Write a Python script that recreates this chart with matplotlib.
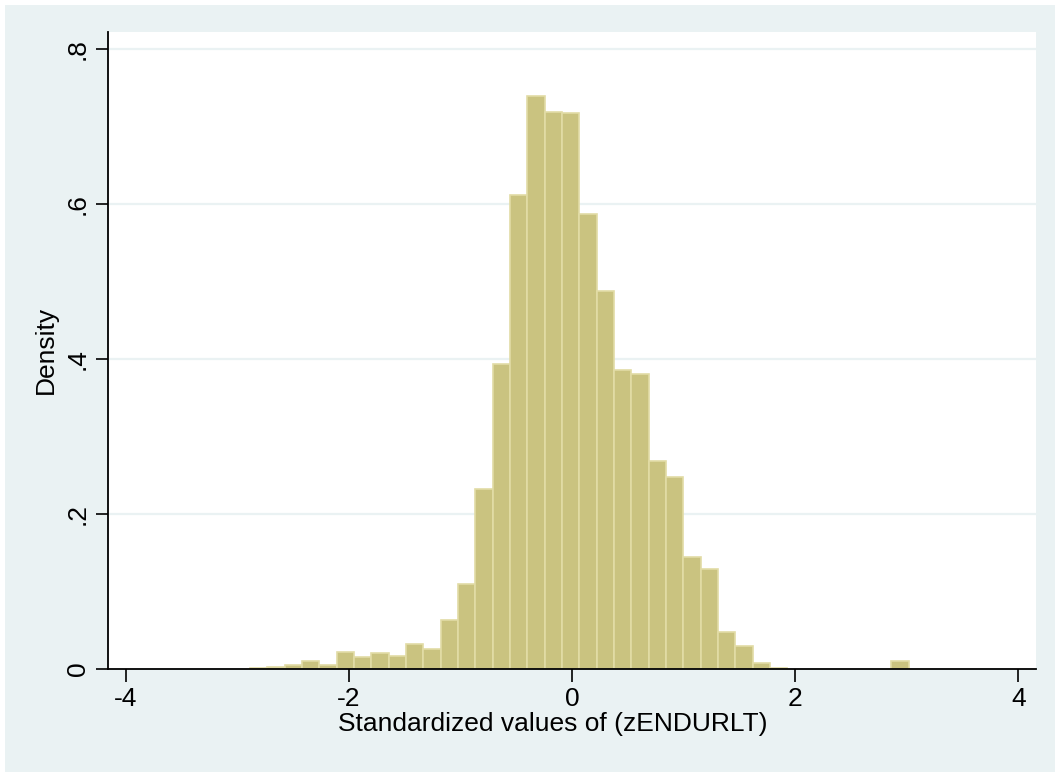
import matplotlib
matplotlib.use("Agg")
import matplotlib.pyplot as plt
from matplotlib.patches import Rectangle
import numpy as np

plt.rcParams['font.family'] = ['Liberation Sans', 'DejaVu Sans']

# histogram of standardized values
bin_start = -2.885
bin_width = 0.1553
density = [0.0013, 0.0026, 0.0047, 0.0099, 0.0056, 0.0215, 0.016, 0.0206,
           0.0163, 0.032, 0.0254, 0.063, 0.110, 0.232, 0.393, 0.611,
           0.739, 0.719, 0.718, 0.587, 0.488, 0.386, 0.380, 0.268,
           0.248, 0.144, 0.129, 0.048, 0.030, 0.0073, 0.0013,
           0, 0, 0, 0, 0, 0, 0.0099]
x_ticks = [-4, -2, 0, 2, 4]
y_ticks = [0, 0.2, 0.4, 0.6, 0.8]
y_labels = ['0', '.2', '.4', '.6', '.8']

W, H = 1055, 772
fig = plt.figure(figsize=(W / 100, H / 100), dpi=100, facecolor='white')
# stata-like outer region
fig.patches.append(Rectangle((5 / W, 0), 1 - 5 / W, 1 - 5 / H,
                             transform=fig.transFigure, facecolor='#EAF2F3',
                             edgecolor='none', zorder=-5))

ax = fig.add_axes([108 / W, 1 - 669 / H, (1036 - 108) / W, (669 - 31.7) / H])
ax.set_facecolor('white')

density = np.array(density)
lefts = bin_start + bin_width * np.arange(len(density))
nz = density > 0  # empty bins draw nothing
ax.bar(lefts[nz], density[nz], width=bin_width, align='edge', color='#CAC380',
       edgecolor='#E2DCA6', linewidth=1.2, zorder=3)

ax.set_xlim(-4.157, 4.157)
ax.set_ylim(0, 0.8223)
ax.set_xticks(x_ticks)
ax.set_xticklabels([str(t) for t in x_ticks])
ax.set_yticks(y_ticks)
ax.set_yticklabels(y_labels, rotation=90, va='center')

for yv in y_ticks[1:]:
    ax.axhline(yv, color='#EAF2F3', linewidth=1.6, zorder=1)

for s in ['top', 'right']:
    ax.spines[s].set_visible(False)
for s in ['left', 'bottom']:
    ax.spines[s].set_linewidth(1.3)
    ax.spines[s].set_color('black')
    ax.spines[s].set_zorder(4)

ax.tick_params(axis='both', direction='out', length=9, width=1.2,
               labelsize=19, pad=4)
ax.set_xlabel('Standardized values of (zENDURLT)', fontsize=19)
ax.set_ylabel('Density', fontsize=19, labelpad=6)
ax.xaxis.set_label_coords(0.4795, -0.068)

fig.savefig('out.png', dpi=100, facecolor=fig.get_facecolor())
